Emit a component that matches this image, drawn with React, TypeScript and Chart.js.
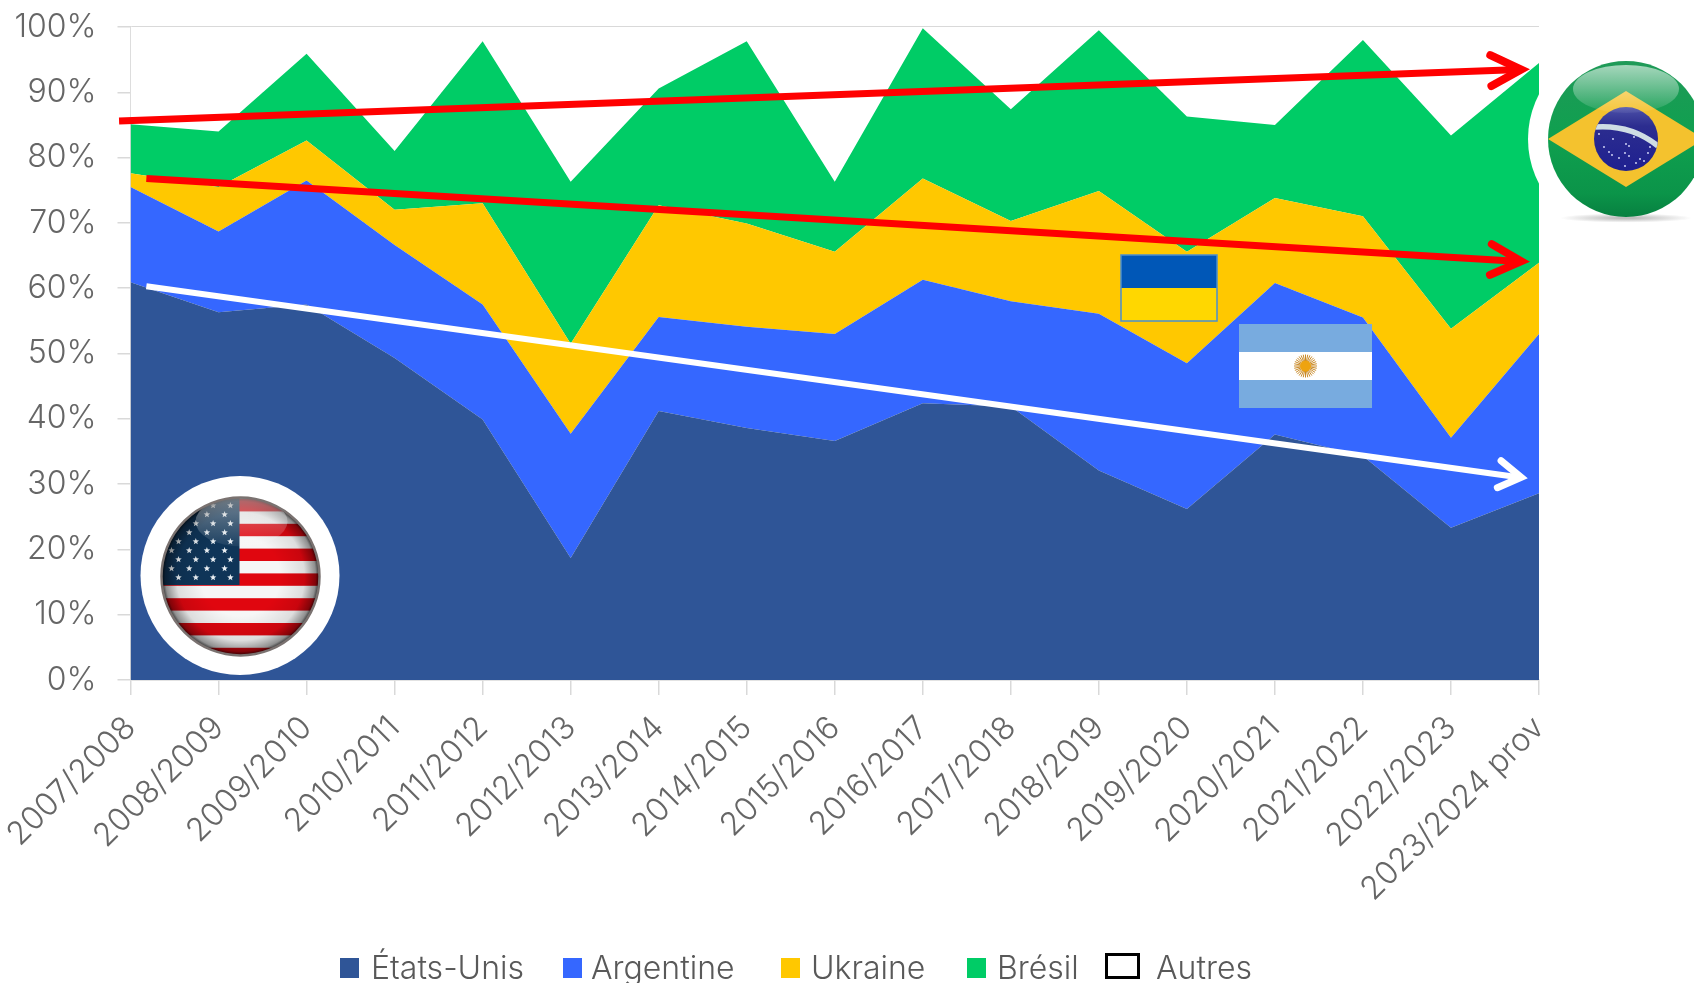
import React, { useEffect, useRef } from "react";
import { Chart, registerables } from "chart.js";

Chart.register(...registerables);

const seasons = ["2007/2008","2008/2009","2009/2010","2010/2011","2011/2012","2012/2013","2013/2014","2014/2015","2015/2016","2016/2017","2017/2018","2018/2019","2019/2020","2020/2021","2021/2022","2022/2023","2023/2024 prov"];
const etatsUnis = [60.9,56.3,57.5,49.3,39.9,18.7,41.2,38.6,36.6,42.4,41.9,32.1,26.2,37.6,34.3,23.3,28.6];
const argentine = [14.6,12.4,19.0,17.3,17.6,19.0,14.4,15.5,16.4,18.9,16.1,24.0,22.3,23.2,21.2,13.8,24.4];
const ukraine = [2.1,6.8,6.1,5.4,15.5,13.8,17.1,15.8,12.6,15.5,12.3,18.8,17.1,13.0,15.5,16.7,10.9];
const bresil = [7.5,8.5,13.3,9.0,24.8,24.8,17.9,27.9,10.7,23.0,17.1,24.6,20.7,11.2,27.0,29.6,30.6];
const autres = [14.9,16.0,4.1,19.0,2.2,23.7,9.4,2.2,23.7,0.2,12.6,0.5,13.7,15.0,2.0,16.6,5.5];

const seriesNames = ["États-Unis","Argentine","Ukraine","Brésil","Autres"];
const seriesColors = ["#2f5597","#3567ff","#ffc800","#00cc66","#ffffff"];
const seriesValues = [etatsUnis, argentine, ukraine, bresil, autres];

// Trend arrows, in axis units: [category index, percent]
const trendBresil = [[-0.13,85.6],[15.82,93.5]];
const trendUkraine = [[0.18,76.8],[15.82,64.1]];
const trendUsa = [[0.18,60.3],[15.82,31.0]];

const legendLeft = [340,563,781,967,1105];
const legendTextLeft = [371,591,811,997,1156];

const FONT = "Inter, 'Noto Sans', sans-serif";
const TICK = "#666666";

function drawArrow(c: CanvasRenderingContext2D, x1: number, y1: number, x2: number, y2: number, color: string, w: number, L: number, s: number) {
  c.save();
  c.strokeStyle = color;
  c.lineWidth = w;
  c.beginPath(); c.moveTo(x1, y1); c.lineTo(x2 - 3, y2); c.stroke();
  c.lineCap = "round";
  c.lineJoin = "miter";
  c.lineWidth = w + 1;
  const a = Math.atan2(y2 - y1, x2 - x1);
  const tx = x2 - 2 * Math.cos(a), ty = y2 - 2 * Math.sin(a);
  c.beginPath();
  c.moveTo(tx - L * Math.cos(a - s), ty - L * Math.sin(a - s));
  c.lineTo(tx, ty);
  c.lineTo(tx - L * Math.cos(a + s), ty - L * Math.sin(a + s));
  c.stroke();
  c.restore();
}

function star(c: CanvasRenderingContext2D, x: number, y: number, r: number) {
  c.beginPath();
  for (let i = 0; i < 10; i++) {
    const rr = i % 2 ? r * 0.42 : r;
    const a = -Math.PI / 2 + (i * Math.PI) / 5;
    c.lineTo(x + rr * Math.cos(a), y + rr * Math.sin(a));
  }
  c.closePath();
  c.fill();
}

function drawUsa(c: CanvasRenderingContext2D) {
  const cx = 240, cy = 575, r = 79;
  c.save();
  c.translate(0.5, 1.5);
  c.save();
  c.fillStyle = "#fff";
  c.beginPath(); c.arc(239.5, 574, 99.5, 0, Math.PI * 2); c.fill();
  c.beginPath(); c.arc(cx, cy, r, 0, Math.PI * 2); c.clip();
  c.fillStyle = "#f6f6f6";
  c.fillRect(cx - r, cy - r, 2 * r, 2 * r);
  c.fillStyle = "#e0060f";
  for (let i = -1; i < 6; i++) c.fillRect(cx - r, 522.3 + i * 24.8, 2 * r, 12.4);
  c.fillStyle = "#0f3558";
  c.fillRect(cx - r, cy - r, 239 - (cx - r), 583.5 - (cy - r));
  c.fillStyle = "#e8eef2";
  for (let row = 0; row < 9; row++) {
    const y = 576 - row * 9;
    for (let k = 0; k < 4; k++) {
      const x = row % 2 === 0 ? 178 + k * 17.3 : 171 + k * 17.7;
      star(c, x, y, 3.4);
    }
  }
  const g = c.createRadialGradient(cx, cy, r * 0.5, cx, cy, r);
  g.addColorStop(0, "rgba(0,0,0,0)");
  g.addColorStop(0.62, "rgba(0,0,0,0.1)");
  g.addColorStop(0.9, "rgba(0,0,0,0.42)");
  g.addColorStop(1, "rgba(0,0,0,0.82)");
  c.fillStyle = g;
  c.fillRect(cx - r, cy - r, 2 * r, 2 * r);
  const t = c.createLinearGradient(0, cy - r, 0, cy - 30);
  t.addColorStop(0, "rgba(255,255,255,0.42)");
  t.addColorStop(1, "rgba(255,255,255,0.06)");
  c.fillStyle = t;
  c.beginPath(); c.ellipse(cx + 1, cy - 55, 46, 25, 0, 0, Math.PI * 2); c.fill();
  c.restore();
  c.strokeStyle = "#7a7270";
  c.lineWidth = 2.5;
  c.beginPath(); c.arc(cx, cy, r, 0, Math.PI * 2); c.stroke();
  c.restore();
}

function drawBrazil(c: CanvasRenderingContext2D) {
  const cx = 1626, cy = 139, r = 78;
  c.save();
  c.fillStyle = "#fff";
  c.beginPath(); c.arc(1625, 139, 97, 0, Math.PI * 2); c.fill();
  c.restore();
  c.save();
  c.translate(cx, 218); c.scale(1, 0.07);
  const s = c.createRadialGradient(0, 0, 10, 0, 0, 66);
  s.addColorStop(0, "rgba(110,110,110,0.45)");
  s.addColorStop(1, "rgba(110,110,110,0)");
  c.fillStyle = s;
  c.beginPath(); c.arc(0, 0, 66, 0, Math.PI * 2); c.fill();
  c.restore();
  c.save();
  c.beginPath(); c.arc(cx, cy, r, 0, Math.PI * 2); c.clip();
  const g = c.createLinearGradient(0, cy - r, 0, cy + r);
  g.addColorStop(0, "#1f9a58");
  g.addColorStop(0.5, "#0fa04f");
  g.addColorStop(0.85, "#0b9449");
  g.addColorStop(1, "#078040");
  c.fillStyle = g;
  c.fillRect(cx - r, cy - r, 2 * r, 2 * r);
  c.fillStyle = "#f4c22e";
  c.beginPath();
  c.moveTo(cx, 91); c.lineTo(cx + 78, cy); c.lineTo(cx, 187); c.lineTo(cx - 78, cy); c.closePath(); c.fill();
  const b = c.createLinearGradient(0, cy - 32, 0, cy + 32);
  b.addColorStop(0, "#4d51a8");
  b.addColorStop(0.3, "#2c2d8f");
  b.addColorStop(1, "#1f2090");
  c.fillStyle = b;
  c.beginPath(); c.arc(cx, cy, 32, 0, Math.PI * 2); c.fill();
  c.save();
  c.beginPath(); c.arc(cx, cy, 32, 0, Math.PI * 2); c.clip();
  c.strokeStyle = "#cfdde4";
  c.lineWidth = 5.5;
  c.beginPath();
  c.moveTo(cx - 32, 127);
  c.quadraticCurveTo(cx + 5, 124, cx + 32, 146);
  c.stroke();
  c.restore();
  c.fillStyle = "#dfe2ff";
  const dots = [[-27,-5],[-13,0],[-22,8],[-17,13],[-14,16],[-7,19],[0,5],[3,7],[-1,14],[3,17],[10,24],[14,20],[18,22],[22,14],[24,8],[8,-2],[-1,27]];
  dots.forEach(([dx, dy]) => { c.beginPath(); c.arc(cx + dx, cy + dy, 0.9, 0, Math.PI * 2); c.fill(); });
  const t = c.createLinearGradient(0, 65, 0, 113);
  t.addColorStop(0, "rgba(255,255,255,0.6)");
  t.addColorStop(1, "rgba(255,255,255,0.06)");
  c.fillStyle = t;
  c.beginPath(); c.ellipse(cx, 89, 53, 24, 0, 0, Math.PI * 2); c.fill();
  c.restore();
}

function drawUkraine(c: CanvasRenderingContext2D) {
  c.save();
  c.fillStyle = "#0057b7";
  c.fillRect(1121, 255, 96, 33);
  c.fillStyle = "#ffd700";
  c.fillRect(1121, 288, 96, 33);
  c.strokeStyle = "#4a8fd0";
  c.lineWidth = 1.5;
  c.strokeRect(1121, 255, 96, 66);
  c.restore();
}

function drawArgentina(c: CanvasRenderingContext2D) {
  c.save();
  c.fillStyle = "#78abdf";
  c.fillRect(1239, 324, 133, 84);
  c.fillStyle = "#ffffff";
  c.fillRect(1239, 352, 133, 28);
  const x = 1305.5, y = 366;
  c.strokeStyle = "#c98a28";
  c.lineWidth = 1;
  for (let i = 0; i < 32; i++) {
    const a = (i * Math.PI) / 16;
    c.beginPath();
    c.moveTo(x + 5 * Math.cos(a), y + 5 * Math.sin(a));
    c.lineTo(x + 11.5 * Math.cos(a), y + 11.5 * Math.sin(a));
    c.stroke();
  }
  c.fillStyle = "#eea30f";
  c.beginPath(); c.arc(x, y, 5.5, 0, Math.PI * 2); c.fill();
  c.restore();
}

const decorations = {
  id: "decorations",
  afterDraw(chart: any) {
    const c = chart.ctx as CanvasRenderingContext2D;
    const { x, y } = chart.scales;
    const px = (p: number[]) => [x.getPixelForValue(p[0]), y.getPixelForValue(p[1])];
    drawUkraine(c);
    drawArgentina(c);
    const list: [number[][], string, number, number, number][] = [
      [trendBresil, "#ff0000", 7, 34, 0.47],
      [trendUkraine, "#ff0000", 7, 34, 0.47],
      [trendUsa, "#ffffff", 6, 26, 0.55],
    ];
    list.forEach(([pts, col, w, L, s]) => {
      const a = px(pts[0]), b = px(pts[1]);
      drawArrow(c, a[0], a[1], b[0], b[1], col, w, L, s);
    });
    drawBrazil(c);
    drawUsa(c);
  },
};

export default function App() {
  const ref = useRef<HTMLCanvasElement>(null);
  useEffect(() => {
    document.body.style.margin = "0";
    document.body.style.overflow = "hidden";
    const chart = new Chart(ref.current!, {
      type: "line",
      data: {
        labels: seasons,
        datasets: seriesNames.map((label, i) => ({
          label,
          data: seriesValues[i],
          backgroundColor: seriesColors[i],
          borderWidth: 0,
          pointRadius: 0,
          tension: 0,
          fill: i === 0 ? "origin" : "-1",
        })),
      },
      options: {
        animation: false,
        responsive: false,
        layout: { autoPadding: false, padding: { left: 0, right: 155, top: 27, bottom: 0 } },
        plugins: { legend: { display: false }, tooltip: { enabled: false } },
        scales: {
          x: {
            offset: false,
            grid: { drawOnChartArea: false, color: "#d9d9d9", lineWidth: 1.5, tickLength: 15 },
            border: { color: "#d9d9d9", width: 1.5 },
            ticks: {
              autoSkip: false, minRotation: 45, maxRotation: 45, padding: 14,
              color: TICK, font: { family: FONT, size: 32, weight: "300" },
            },
            afterFit(s: any) {
              s.height = 303;
              s.paddingLeft = 0; s.paddingRight = 0; s.paddingTop = 0; s.paddingBottom = 0;
            },
          },
          y: {
            stacked: true,
            min: 0, max: 100,
            grid: { color: "#d9d9d9", lineWidth: 1.5, tickLength: 13 },
            border: { color: "#d9d9d9", width: 1.5 },
            ticks: {
              stepSize: 10, padding: 21,
              color: TICK, font: { family: FONT, size: 32, weight: "300" },
              callback: (v: any) => v + "%",
            },
            afterFit(s: any) {
              s.width = 130.5;
              s.paddingLeft = 0; s.paddingRight = 0; s.paddingTop = 0; s.paddingBottom = 0;
            },
          },
        },
      },
      plugins: [decorations],
    } as any);
    return () => chart.destroy();
  }, []);
  return (
    <div style={{ position: "relative", width: 1694, height: 983, overflow: "hidden", background: "#fff" }}>
      <canvas ref={ref} width={1694} height={983} style={{ display: "block" }} />
      {seriesNames.map((name, i) => {
        const isOther = i === 4;
        return (
          <React.Fragment key={name}>
            <div style={{
              position: "absolute", left: legendLeft[i], top: isOther ? 953 : 958,
              width: isOther ? 35 : 19, height: isOther ? 26 : 20, boxSizing: "border-box",
              background: seriesColors[i], border: isOther ? "3px solid #000" : "none",
            }} />
            <div style={{
              position: "absolute", left: legendTextLeft[i], top: 948, height: 36, lineHeight: "36px",
              font: `300 32px ${FONT}`, color: "#595959", whiteSpace: "nowrap",
            }}>{name}</div>
          </React.Fragment>
        );
      })}
    </div>
  );
}
